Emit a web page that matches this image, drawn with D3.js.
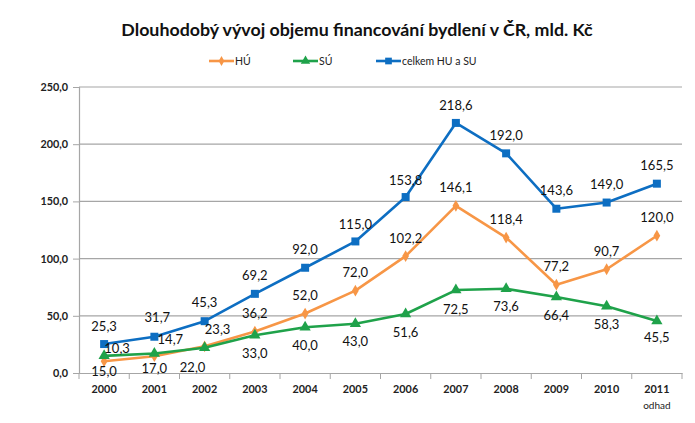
<!DOCTYPE html>
<html><head><meta charset="utf-8">
<script src="https://cdn.jsdelivr.net/npm/d3@7"></script>
<style>body{margin:0;background:#fff}svg{display:block}</style>
</head><body><svg id="c" width="695" height="423"></svg>
<script>
const years = ["2000","2001","2002","2003","2004","2005","2006","2007","2008","2009","2010","2011"];
const yearSub = ["","","","","","","","","","","","odhad"];
const hu = [10.3,14.7,23.3,36.2,52.0,72.0,102.2,146.1,118.4,77.2,90.7,120.0];
const su = [15.0,17.0,22.0,33.0,40.0,43.0,51.6,72.5,73.6,66.4,58.3,45.5];
const total = [25.3,31.7,45.3,69.2,92.0,115.0,153.8,218.6,192.0,143.6,149.0,165.5];
const yTicks = [0,50,100,150,200,250];
const seriesNames = ["HÚ","SÚ","celkem HU a SU"];

const svg = d3.select("#c");
const fontT = "Lato, 'Open Sans', sans-serif";
const x = d3.scaleBand().domain(years).range([79,682]);
const y = d3.scaleLinear().domain([0,250]).range([373,87]);
const cx = d => x(d) + x.bandwidth()/2;
const fmt = v => d3.format(".1f")(v).replace(".", ",");

// gridlines
svg.append("g").selectAll("line").data(yTicks.filter(t=>t>0)).join("line")
  .attr("x1",79).attr("x2",682).attr("y1",d=>y(d)).attr("y2",d=>y(d))
  .attr("stroke","#a6a6a6").attr("stroke-width",1.2);

// y axis
const ya = svg.append("g").attr("transform","translate(79,0)")
  .call(d3.axisLeft(y).tickValues(yTicks).tickSize(6).tickPadding(5).tickFormat(fmt));
ya.select(".domain").attr("stroke","#a6a6a6").attr("stroke-width",1.2);
ya.selectAll(".tick line").attr("stroke","#a6a6a6");
ya.selectAll("text").attr("font-family",fontT).attr("font-size",10.8).attr("font-weight","bold").attr("fill","#222");

// x axis
const xa = svg.append("g").attr("transform","translate(0,373)")
  .call(d3.axisBottom(x).tickSize(0).tickPadding(12));
xa.select(".domain").attr("stroke","#a6a6a6").attr("stroke-width",1.2);
xa.selectAll("text").attr("font-family",fontT).attr("font-size",10.8).attr("font-weight","bold").attr("fill","#222");
svg.append("g").selectAll("line").data(years.concat(["end"])).join("line")
  .attr("x1",(d,i)=>79+i*x.bandwidth()).attr("x2",(d,i)=>79+i*x.bandwidth())
  .attr("y1",373).attr("y2",379).attr("stroke","#a6a6a6");
svg.append("g").selectAll("text").data(yearSub).join("text")
  .attr("x",(d,i)=>cx(years[i])).attr("y",409).attr("text-anchor","middle")
  .attr("font-family",fontT).attr("font-size",10).attr("fill","#222").text(d=>d);

const colors = ["#F79646","#1FA24A","#0D6EC2"];
const data = [hu, su, total];
const line = d3.line().x((d,i)=>cx(years[i])).y(d=>y(d));
const sym = [d3.symbolDiamond, d3.symbolTriangle, d3.symbolSquare];
const symSize = [40, 55, 64];

// draw order: total, hu, su
[2,0,1].forEach(k=>{
  svg.append("path").datum(data[k]).attr("d",line).attr("fill","none")
    .attr("stroke",colors[k]).attr("stroke-width",2.6).attr("stroke-linejoin","round");
  svg.append("g").selectAll("path").data(data[k]).join("path")
    .attr("transform",(d,i)=>`translate(${cx(years[i])},${y(d)})`)
    .attr("d",d3.symbol(sym[k],symSize[k])).attr("fill",colors[k]);
});

// data labels
const lblOff = [
  {dx:[13,16,13,0,0,0,0,0,0,0,0,0], dy:[-13,-17,-17,-18,-18,-18,-18,-18,-18,-18,-18,-18]},
  {dx:[0,0,-12,0,0,0,0,0,0,0,0,0], dy:[16,15,20,18,18,18,19,19,18,18,18,17]},
  {dx:[0,3,0,0,0,0,0,0,0,0,0,0], dy:[-18,-19,-19,-18,-18,-17,-17,-17,-18,-18,-18,-18]}
];
[0,1,2].forEach(k=>{
  svg.append("g").selectAll("text").data(data[k]).join("text")
    .attr("x",(d,i)=>cx(years[i])+lblOff[k].dx[i])
    .attr("y",(d,i)=>y(d)+lblOff[k].dy[i]+4.5)
    .attr("text-anchor","middle").attr("font-family",fontT).attr("font-size",13)
    .attr("fill","#111").text(d=>fmt(d));
});

// title
svg.append("text").attr("x",357).attr("y",36).attr("text-anchor","middle")
  .attr("font-family",fontT).attr("font-size",17.8).attr("font-weight","bold")
  .attr("fill","#111").text("Dlouhodobý vývoj objemu financování bydlení v ČR, mld. Kč");

// legend
const legX = [209, 293, 376];
seriesNames.forEach((n,k)=>{
  const g = svg.append("g").attr("transform",`translate(${legX[k]},61)`);
  g.append("line").attr("x1",0).attr("x2",25).attr("stroke",colors[k]).attr("stroke-width",2.6);
  g.append("path").attr("transform","translate(12.5,0)").attr("d",d3.symbol(sym[k],symSize[k]*0.7)).attr("fill",colors[k]);
  g.append("text").attr("x",26).attr("y",3.5).attr("font-family",fontT).attr("font-size",10.5)
    .attr("fill","#222").text(n);
});
</script></body></html>
